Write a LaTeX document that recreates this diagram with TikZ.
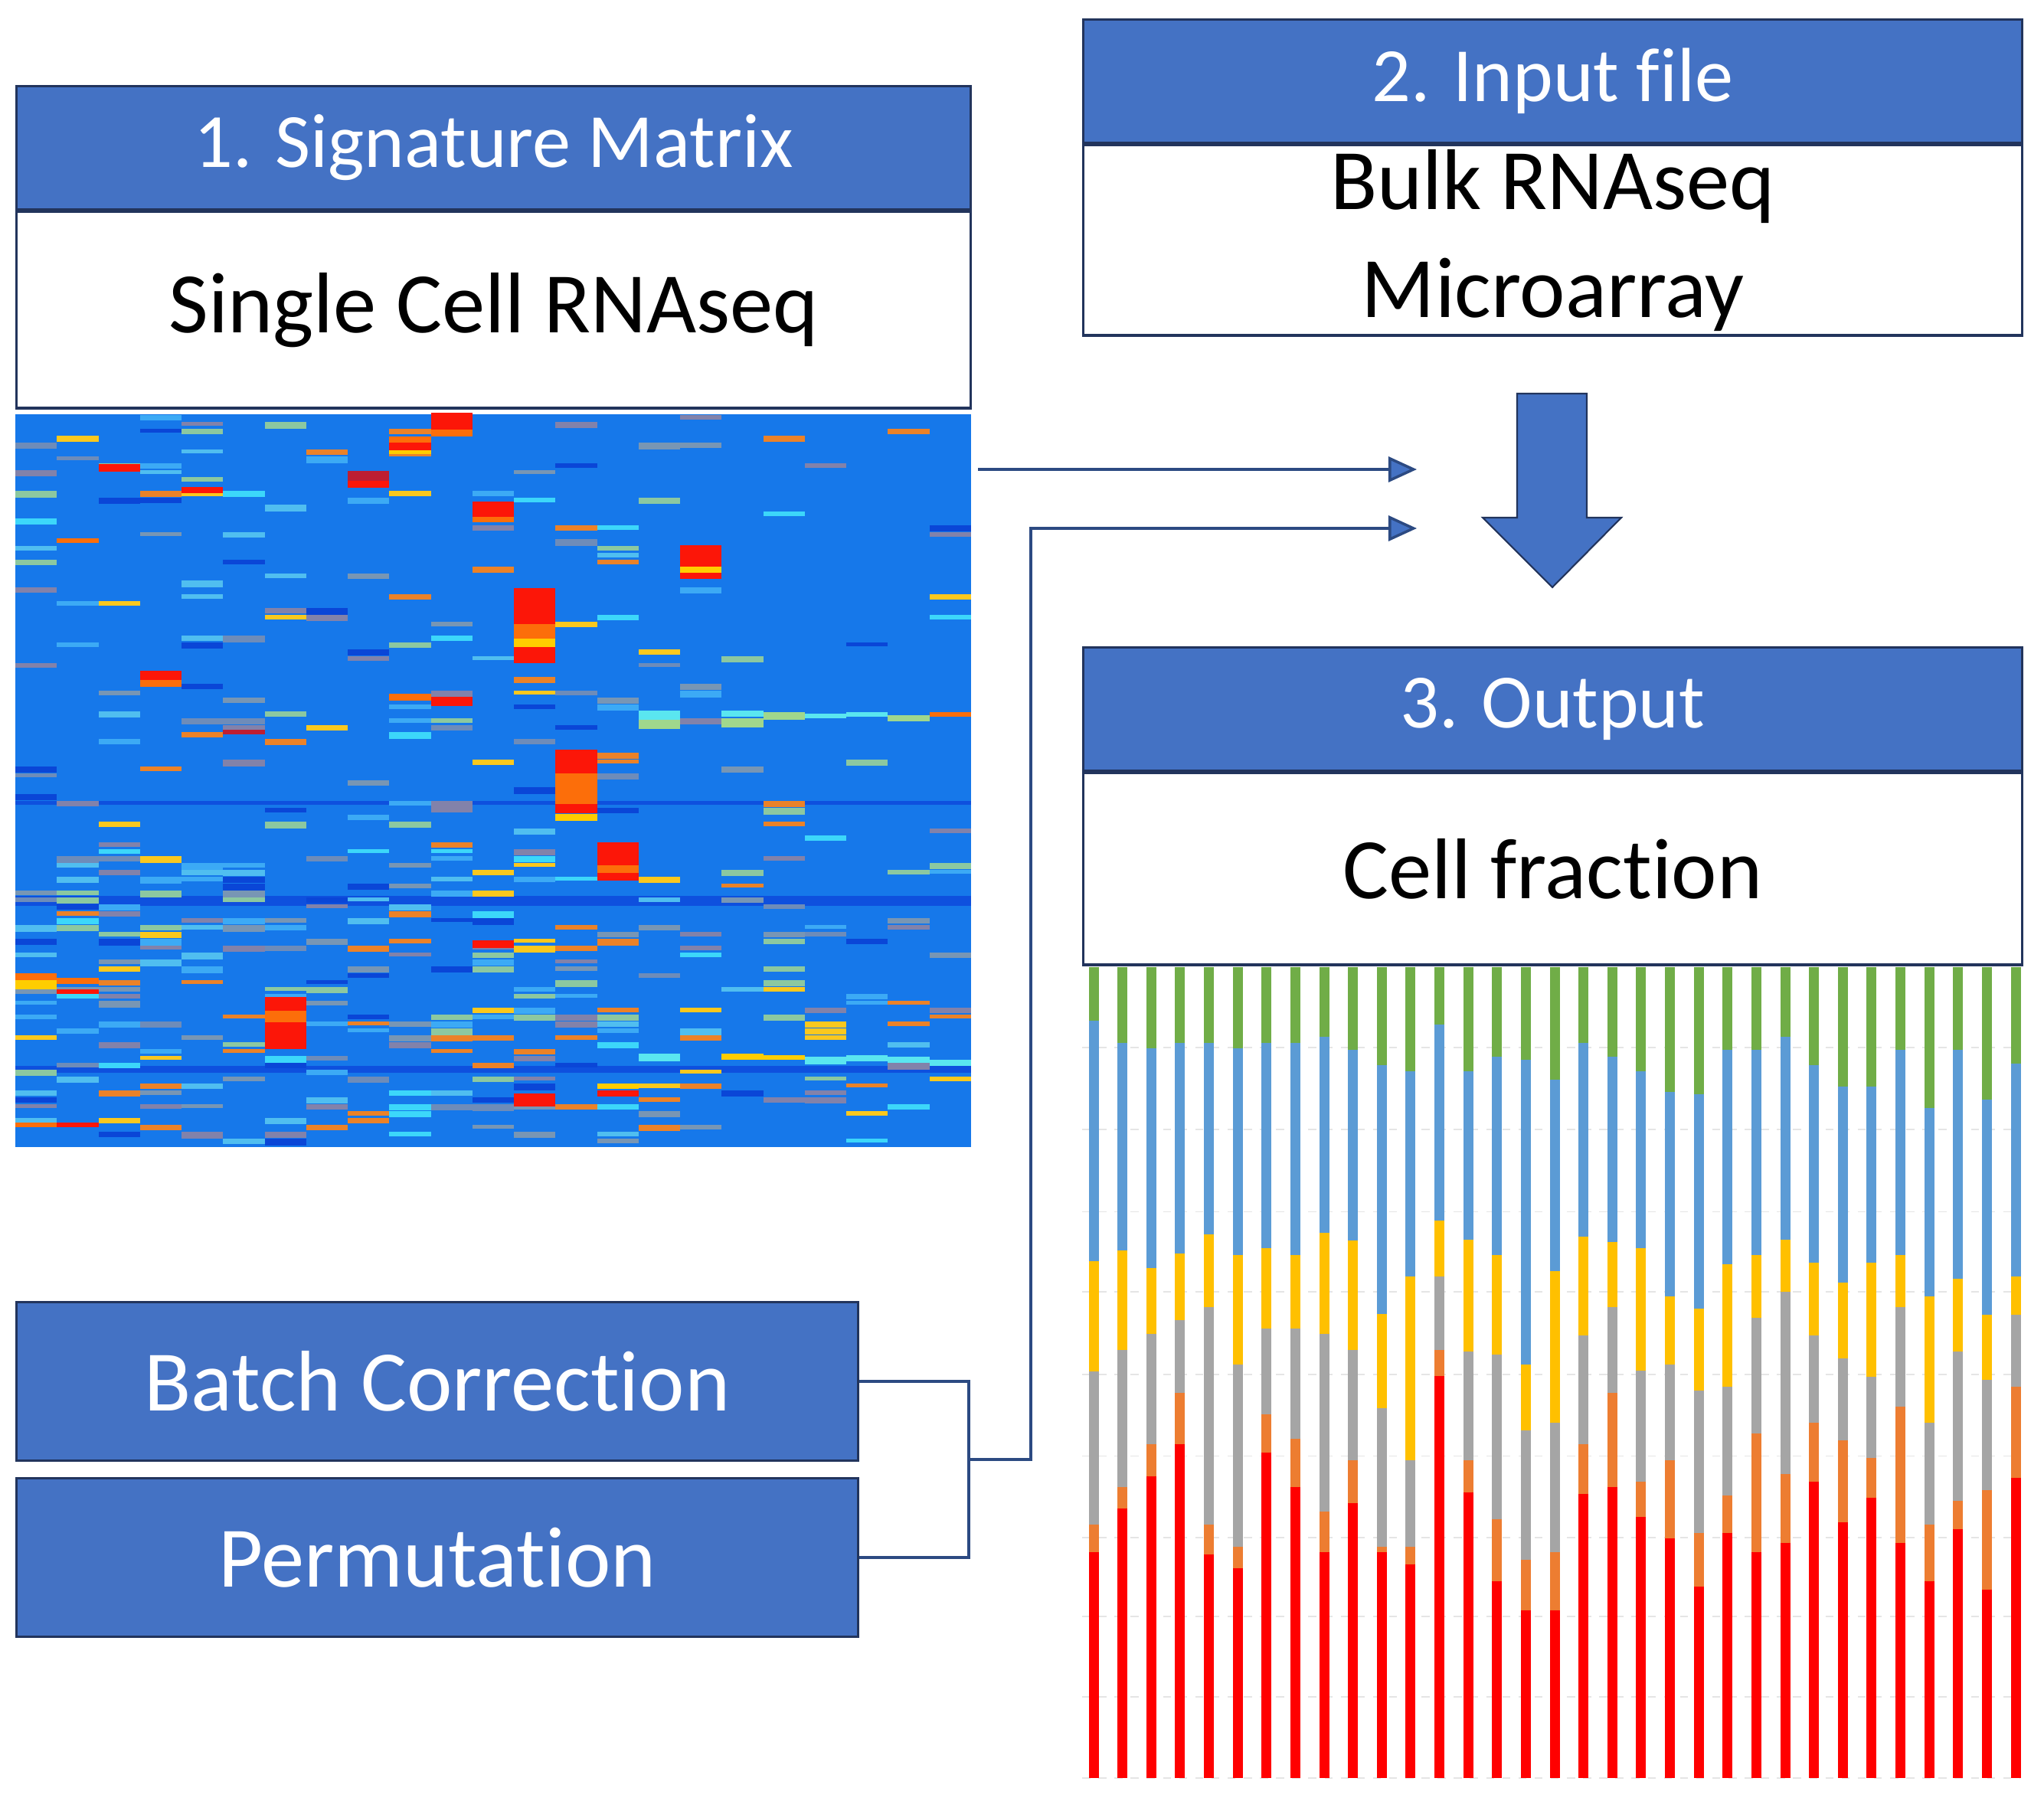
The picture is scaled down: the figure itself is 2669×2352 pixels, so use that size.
\documentclass[tikz,border=0pt]{standalone}
\usepackage{fontspec}
\setmainfont{Carlito}[Ligatures={NoCommon,NoContextual,NoRequired}]
\usetikzlibrary{arrows.meta}
\definecolor{hdrblue}{RGB}{68,114,196}
\definecolor{edgeblue}{RGB}{34,52,92}
\definecolor{wireblue}{RGB}{44,74,130}
% heatmap colours
\definecolor{hmbg}{RGB}{22,120,234}
\definecolor{hmdark}{RGB}{14,80,222}
\definecolor{hm0}{RGB}{60,215,250}
\definecolor{hm1}{RGB}{110,140,185}
\definecolor{hm2}{RGB}{250,200,30}
\definecolor{hm3}{RGB}{235,130,40}
\definecolor{hm4}{RGB}{60,170,245}
\definecolor{hm5}{RGB}{140,200,160}
\definecolor{hm6}{RGB}{130,130,170}
\definecolor{hm7}{RGB}{10,70,215}
\definecolor{hm8}{RGB}{120,150,180}
\definecolor{hm9}{RGB}{80,190,240}
\definecolor{hmred}{RGB}{252,22,8}
\definecolor{hmdred}{RGB}{190,30,50}
\definecolor{hmorange}{RGB}{252,110,10}
\definecolor{hmyel}{RGB}{255,205,0}
\definecolor{hmcyan}{RGB}{90,230,240}
\definecolor{hmgreen}{RGB}{160,215,140}
% bar colours
\definecolor{bargreen}{RGB}{112,173,71}
\definecolor{barblue}{RGB}{91,155,213}
\definecolor{baryel}{RGB}{255,192,0}
\definecolor{bargray}{RGB}{165,165,165}
\definecolor{barorange}{RGB}{237,125,49}
\definecolor{barred}{RGB}{255,0,0}
\begin{document}
\begin{tikzpicture}[x=0.01cm,y=-0.01cm,
  hdr/.style={draw=edgeblue,line width=0.9pt,fill=hdrblue,text=white,inner sep=0pt,
    minimum height=1.61cm,font=\fontsize{28.5}{34}\selectfont},
  bodybox/.style={draw=edgeblue,line width=0.9pt,fill=white,inner sep=0pt,align=center,
    font=\fontsize{32}{40}\selectfont},
  wire/.style={draw=wireblue,line width=1pt},
  tip/.style={-{Triangle[length=0.37cm,width=0.33cm,fill=hdrblue]}},
  gridline/.style={draw=black!10,dashed,line width=0.5pt}]
\useasboundingbox (0,0) rectangle (2669,2352);

% 1. signature matrix
\node[hdr,anchor=north west,minimum width=12.45cm] (sighead) at (20,111) {1. Signature Matrix};
\node[bodybox,anchor=north,minimum width=12.45cm,minimum height=2.56cm] (sigbody) at (sighead.south) {Single Cell RNAseq};

% heatmap
\coordinate (heat) at (20,541);
\coordinate (heatne) at (1268,541);
\fill[hmbg] (heat) rectangle (1268,1498);
\foreach \ya/\yb in {1170/1183,1392/1401,1046/1051}
  \fill[hmdark] (20,\ya) rectangle (1268,\yb);
\pgfmathsetseed{4242}
\foreach \r in {0,...,105}{
  \pgfmathsetmacro\yy{541+9*\r}
  \foreach \c in {0,...,22}{
    \pgfmathsetmacro\xx{20+54.26*\c}
    \pgfmathsetmacro\lim{\c<15 ? (\r>62 ? 0.34 : 0.13) : (\r>62 ? 0.14 : 0.04)}
    \pgfmathsetmacro\p{rnd}
    \ifdim\p pt<\lim pt
      \pgfmathtruncatemacro\k{int(rnd*9.99)}
      \fill[hm\k] (\xx,\yy+1) rectangle ++(54.26,{5+4*rnd});
    \fi
  }
}
\foreach \c/\ya/\yb/\col in {10/539/561/hmred,10/561/570/hmorange,9/570/578/hmorange,
  9/578/588/hmred,9/588/593/hmyel,2/606/616/hmred,8/615/628/hmdred,8/628/637/hmred,
  4/636/644/hmred,11/655/675/hmred,11/675/682/hmorange,16/712/740/hmred,16/740/748/hmyel,
  16/748/756/hmred,12/768/815/hmred,12/815/834/hmorange,12/834/845/hmyel,12/845/866/hmred,
  3/876/888/hmred,3/888/897/hmorange,9/906/915/hmorange,10/910/922/hmred,
  13/979/1010/hmred,13/1010/1050/hmorange,13/1050/1062/hmred,13/1063/1072/hmyel,
  14/1100/1130/hmred,14/1130/1140/hmorange,14/1140/1150/hmred,
  6/1302/1320/hmred,6/1320/1335/hmorange,6/1335/1370/hmred,12/1428/1445/hmred,
  11/1228/1238/hmred,0/1271/1280/hmorange,0/1280/1292/hmyel,1/1277/1285/hmorange,
  1/1292/1298/hmred,14/1415/1422/hmyel,14/1424/1432/hmred,5/953/959/hmdred,
  1/703/709/hmorange,0/1466/1472/hmorange,1/1466/1472/hmred,
  15/928/940/hmcyan,15/940/952/hmgreen,17/928/936/hmcyan,17/938/950/hmgreen,
  18/930/940/hmgreen,19/932/938/hmcyan,20/930/936/hmcyan,21/934/942/hmgreen,
  22/930/936/hmorange,15/1376/1386/hmcyan,17/1376/1384/hmyel,18/1378/1384/hmyel,
  19/1380/1390/hmcyan,20/1378/1386/hmcyan,21/1380/1388/hmcyan,22/1384/1392/hmcyan}
  \fill[\col] ({20+54.26*\c},\ya) rectangle ({74.26+54.26*\c},\yb);

% 2. input file
\node[hdr,anchor=north west,minimum width=12.25cm] (inhead) at (1413,24) {2. Input file};
\node[bodybox,anchor=north,minimum width=12.25cm,minimum height=2.48cm] (inbody) at (inhead.south) {Bulk RNAseq\\Microarray};

% big arrow
\draw[edgeblue,fill=hdrblue,line width=0.6pt] (1981,514) -- (2072,514) -- (2072,676) -- (2117,676)
  -- (2027,767) -- (1936,676) -- (1981,676) -- cycle;

% 3. output
\node[hdr,anchor=north west,minimum width=12.25cm] (outhead) at (1413,844) {3. Output};
\node[bodybox,anchor=north,minimum width=12.25cm,minimum height=2.5cm] (outbody) at (outhead.south) {Cell fraction};

% stacked bars
\begin{scope}[shift={(0,1250)},yscale=0.7028]
\foreach \g in {168,320,473,622,775,927,1078,1225,1375,1525}
  \draw[gridline] (1413,\g) -- (2638,\g);
\foreach \a/\b/\c/\d/\e [count=\i from 0] in {
  118/565/770/1055/1105,160/545/730/985/1025,170/578/700/905/965,160/550/675/810/905,
  160/515/650/1055/1110,170/553/757/1095/1135,160/540/690/850/920,160/553/690/895/985,
  148/512/700/1030/1105,172/527/730/935/1015,200/663/838/1095/1105,212/593/935/1095/1128,
  125/490/593/730/778,212/525/733/935/995,185/553/738/1045/1160,190/757/880/1120/1213,
  228/583/865/1105/1213,160/520/703/905/998,185/530/650/810/985,212/540/768/975/1040,
  250/630/757/935/1080,255/653/805/1070/1170,172/570/798/1000/1070,172/553/670/885/1105,
  148/525/622/960/1088,200/568/703/865/975,240/605/745/898/1050,240/568/780/930/1005,
  172/553/650/835/1088,280/630/865/1055/1160,172/598/733/1010/1063,265/665/785/990/1175,
  198/593/665/798/968}{
  \pgfmathsetmacro\bx{1421.5+37.625*\i}
  \fill[bargreen] (\bx,18) rectangle (\bx+13,\a);
  \fill[barblue] (\bx,\a) rectangle (\bx+13,\b);
  \fill[baryel] (\bx,\b) rectangle (\bx+13,\c);
  \fill[bargray] (\bx,\c) rectangle (\bx+13,\d);
  \fill[barorange] (\bx,\d) rectangle (\bx+13,\e);
  \fill[barred] (\bx,\e) rectangle (\bx+13,1525);
}
\end{scope}

% batch correction and permutation
\node[hdr,anchor=north west,minimum width=10.98cm,minimum height=2.07cm,font=\fontsize{32}{38}\selectfont] (batch) at (20,1699) {Batch Correction};
\node[hdr,anchor=north west,minimum width=10.98cm,minimum height=2.07cm,font=\fontsize{32}{38}\selectfont] (perm) at (20,1929) {Permutation};

% connectors
\coordinate (join) at (1265,1906);
\coordinate (bend) at (1346,1906);
\coordinate (tip1) at (1850,613);
\coordinate (tip2) at (1850,690);
\draw[wire] (batch.east) -| (join) |- (perm.east);
\draw[wire,tip] (join) -- (bend) |- (tip2);
\draw[wire,tip] ([xshift=0.09cm]heatne |- tip1) -- (tip1);
\end{tikzpicture}
\end{document}
